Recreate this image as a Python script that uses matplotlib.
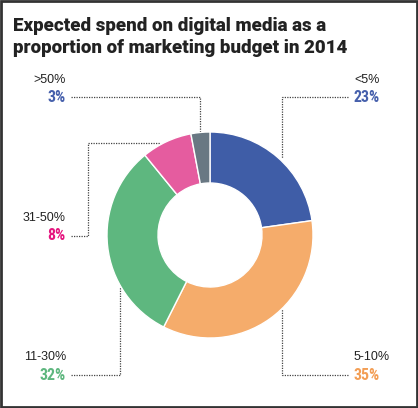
import matplotlib.pyplot as plt
from matplotlib.patches import Rectangle

# Data
categories = ["<5%", "5-10%", "11-30%", "31-50%", ">50%"]
shares = [23, 35, 32, 8, 3]
share_labels = ["23%", "35%", "32%", "8%", "3%"]
wedge_colors = ["#3F5DA7", "#F5AC6B", "#5EB77F", "#E55C9F", "#697883"]
text_colors = ["#4660AC", "#F39E55", "#5EB77F", "#E5157F", "#4660AC"]

W, H = 418, 408
fig = plt.figure(figsize=(W / 100, H / 100), dpi=100)
ax = fig.add_axes([0, 0, 1, 1])

# donut (pixel layout, y measured from top)
cx, cy, r = 210, 235, 103
ax.pie(
    shares,
    colors=wedge_colors,
    startangle=90,
    counterclock=False,
    radius=r,
    center=(cx, H - cy),
    wedgeprops=dict(width=51, edgecolor="white", linewidth=1),
)
ax.set_xlim(0, W)
ax.set_ylim(0, H)
ax.set_aspect("auto")
ax.axis("off")

# label positions: (x, y of category line, y of percent line, alignment)
label_pos = {
    "<5%": (354, 80, 97, "left"),
    "5-10%": (354, 357, 375, "left"),
    "11-30%": (66, 357, 375, "right"),
    "31-50%": (66, 218, 236, "right"),
    ">50%": (66, 80, 97, "right"),
}

# leader lines in pixel coordinates
leaders = {
    "<5%": [(348, 97), (282, 97), (282, 158)],
    "5-10%": [(348, 375), (282, 375), (282, 309)],
    "11-30%": [(71, 375), (120, 375), (120, 287)],
    "31-50%": [(71, 236), (88, 236), (88, 143), (160, 143)],
    ">50%": [(71, 97), (200, 97), (200, 132)],
}

for cat, lab, col in zip(categories, share_labels, text_colors):
    x, y1, y2, ha = label_pos[cat]
    ax.text(x, H - y1, cat, ha=ha, va="center", fontsize=9,
            family="Liberation Sans", color="#222222")
    ax.text(x, H - y2, lab, ha=ha, va="center", fontsize=11.5,
            fontweight="bold", family="Roboto Condensed", color=col)
    pts = leaders[cat]
    ax.plot([p[0] for p in pts], [H - p[1] for p in pts],
            color="#444444", lw=0.9, linestyle=(0, (1, 1)), zorder=0)

# title
fig.text(13 / W, 1 - 37 / H,
         "Expected spend on digital media as a\nproportion of marketing budget in 2014",
         ha="left", va="center", fontsize=13.5, fontweight=900,
         family="Roboto", color="#222222", linespacing=1.3)

# frame
fig.patches.append(Rectangle((0.002, 0.002), 0.996, 0.996, transform=fig.transFigure,
                             fill=False, edgecolor="#333333", linewidth=2))

fig.savefig("out.png", dpi=100)
